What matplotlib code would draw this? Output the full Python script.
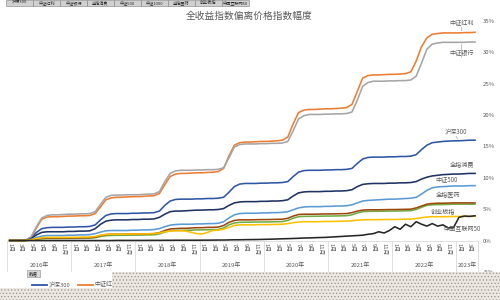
import matplotlib
matplotlib.use('Agg')
import matplotlib.pyplot as plt
from matplotlib.patches import Rectangle
from matplotlib.lines import Line2D

plt.rcParams['font.family'] = ['Noto Sans CJK SC', 'DejaVu Sans']
plt.rcParams['hatch.linewidth'] = 0.55

title = '全收益指数偏离价格指数幅度'
years = ['2016年', '2017年', '2018年', '2019年', '2020年', '2021年', '2022年', '2023年']
months_per_year = [12, 12, 12, 12, 12, 12, 12, 4]
month_labels = ['1月', '3月', '5月', '7月', '9月', '11月']
y_ticks = [-5, 0, 5, 10, 15, 20, 25, 30, 35]

series_names = ['沪深300', '中证红利', '中证银行', '全指消费', '中证500',
                '中证1000', '全指医药', '创业板指', '中国互联网50']

hs300 = [0, 0, 0, 0.02, 0.4, 1.3, 1.9, 2.05, 2.1, 2.1, 2.1, 2.15,
         2.15, 2.2, 2.2, 2.25, 2.5, 3.3, 4.0, 4.25, 4.3, 4.3, 4.3, 4.35,
         4.35, 4.4, 4.4, 4.45, 4.7, 5.6, 6.3, 6.55, 6.6, 6.6, 6.6, 6.65,
         6.65, 6.7, 6.7, 6.75, 6.9, 7.7, 8.6, 9.0, 9.1, 9.1, 9.1, 9.15,
         9.15, 9.2, 9.2, 9.25, 9.4, 10.2, 10.9, 11.15, 11.2, 11.2, 11.2, 11.25,
         11.25, 11.3, 11.3, 11.35, 11.5, 12.3, 13.0, 13.25, 13.3, 13.3, 13.3, 13.35,
         13.35, 13.4, 13.4, 13.45, 13.7, 14.5, 15.2, 15.6, 15.7, 15.8, 15.85, 15.9,
         15.9, 15.95, 16.0, 16.0]
hongli = [0, 0, 0, 0.05, 0.5, 2.0, 3.4, 3.75, 3.8, 3.8, 3.85, 3.9,
          3.9, 3.95, 3.95, 4.0, 4.3, 5.4, 6.5, 6.8, 6.9, 6.9, 6.95, 7.0,
          7.0, 7.05, 7.1, 7.15, 7.5, 8.9, 10.2, 10.6, 10.7, 10.7, 10.75, 10.8,
          10.8, 10.85, 10.9, 11.0, 11.5, 13.5, 15.2, 15.6, 15.7, 15.7, 15.75, 15.8,
          15.8, 15.85, 15.9, 16.0, 16.5, 18.6, 20.4, 20.8, 20.9, 20.9, 20.95, 21.0,
          21.0, 21.05, 21.1, 21.2, 21.7, 23.8, 25.9, 26.3, 26.4, 26.4, 26.45, 26.5,
          26.5, 26.55, 26.6, 26.9, 28.6, 30.9, 32.3, 32.9, 33.0, 33.1, 33.1, 33.1,
          33.1, 33.15, 33.15, 33.2]
yinhang = [0, 0, 0, 0.05, 0.6, 2.2, 3.6, 4.0, 4.1, 4.1, 4.15, 4.2,
           4.2, 4.25, 4.25, 4.3, 4.6, 5.8, 6.9, 7.2, 7.25, 7.25, 7.3, 7.3,
           7.3, 7.35, 7.4, 7.45, 7.8, 9.4, 10.7, 11.1, 11.2, 11.2, 11.2, 11.25,
           11.25, 11.3, 11.3, 11.35, 11.6, 13.2, 14.9, 15.3, 15.4, 15.4, 15.4, 15.45,
           15.45, 15.5, 15.5, 15.55, 15.8, 17.5, 19.4, 19.9, 20.1, 20.1, 20.1, 20.15,
           20.15, 20.2, 20.2, 20.25, 20.5, 22.4, 24.6, 25.2, 25.4, 25.4, 25.4, 25.45,
           25.45, 25.5, 25.5, 25.6, 26.2, 28.3, 30.5, 31.3, 31.5, 31.6, 31.6, 31.6,
           31.6, 31.6, 31.65, 31.65]
xiaofei = [0, 0, 0, 0.02, 0.3, 0.9, 1.3, 1.4, 1.4, 1.4, 1.4, 1.45,
           1.45, 1.5, 1.5, 1.55, 1.9, 2.6, 3.1, 3.25, 3.3, 3.3, 3.3, 3.35,
           3.35, 3.4, 3.4, 3.45, 3.7, 4.2, 4.6, 4.7, 4.7, 4.75, 4.8, 4.85,
           4.85, 4.9, 4.9, 4.95, 5.1, 5.6, 6.0, 6.15, 6.2, 6.2, 6.2, 6.25,
           6.25, 6.3, 6.3, 6.35, 6.5, 7.1, 7.6, 7.75, 7.8, 7.8, 7.8, 7.85,
           7.85, 7.9, 7.9, 7.95, 8.1, 8.6, 8.95, 9.05, 9.1, 9.1, 9.1, 9.15,
           9.15, 9.2, 9.2, 9.25, 9.4, 9.8, 10.1, 10.3, 10.4, 10.5, 10.55, 10.6,
           10.6, 10.65, 10.7, 10.7]
zz500 = [0, 0, 0, 0.01, 0.2, 0.5, 0.7, 0.8, 0.8, 0.8, 0.8, 0.85,
         0.85, 0.9, 0.9, 0.95, 1.1, 1.35, 1.55, 1.6, 1.6, 1.6, 1.6, 1.65,
         1.65, 1.7, 1.7, 1.75, 1.9, 2.2, 2.45, 2.55, 2.6, 2.6, 2.6, 2.65,
         2.65, 2.7, 2.7, 2.75, 3.0, 3.6, 4.1, 4.3, 4.35, 4.35, 4.35, 4.4,
         4.4, 4.45, 4.45, 4.5, 4.6, 4.9, 5.2, 5.35, 5.4, 5.4, 5.4, 5.45,
         5.45, 5.5, 5.5, 5.55, 5.7, 6.0, 6.3, 6.4, 6.45, 6.5, 6.55, 6.6,
         6.6, 6.65, 6.7, 6.75, 6.9, 7.4, 8.0, 8.4, 8.55, 8.6, 8.65, 8.7,
         8.7, 8.7, 8.75, 8.75]
zz1000 = [0, 0, 0, 0, 0.08, 0.2, 0.3, 0.33, 0.33, 0.33, 0.34, 0.35,
          0.35, 0.36, 0.37, 0.38, 0.45, 0.65, 0.78, 0.82, 0.83, 0.84, 0.85, 0.86,
          0.86, 0.88, 0.9, 0.92, 1.05, 1.35, 1.55, 1.6, 1.62, 1.63, 1.65, 1.7,
          1.7, 1.72, 1.74, 1.76, 2.0, 2.5, 2.8, 2.9, 2.92, 2.93, 2.95, 2.96,
          2.96, 2.98, 3.0, 3.02, 3.2, 3.55, 3.8, 3.85, 3.86, 3.87, 3.88, 3.9,
          3.9, 3.92, 3.94, 3.96, 4.1, 4.4, 4.6, 4.65, 4.66, 4.67, 4.68, 4.7,
          4.7, 4.72, 4.74, 4.76, 4.95, 5.3, 5.6, 5.7, 5.72, 5.74, 5.76, 5.8,
          5.8, 5.8, 5.8, 5.8]
yiyao = [0, 0, 0, 0, 0.1, 0.25, 0.35, 0.4, 0.4, 0.4, 0.4, 0.42,
         0.42, 0.44, 0.45, 0.46, 0.55, 0.8, 0.95, 1.0, 1.0, 1.0, 1.02, 1.04,
         1.04, 1.06, 1.08, 1.1, 1.25, 1.6, 1.85, 1.9, 1.95, 1.95, 2.0, 2.05,
         2.05, 2.1, 2.1, 2.15, 2.4, 2.9, 3.2, 3.3, 3.3, 3.3, 3.32, 3.34,
         3.34, 3.36, 3.38, 3.4, 3.55, 3.9, 4.15, 4.2, 4.2, 4.2, 4.22, 4.24,
         4.24, 4.26, 4.28, 4.3, 4.45, 4.7, 4.85, 4.9, 4.9, 4.9, 4.92, 4.94,
         4.94, 4.96, 4.98, 5.0, 5.2, 5.5, 5.8, 5.9, 5.95, 5.95, 5.97, 6.0,
         6.0, 6.0, 6.0, 6.0]
chuangye = [0, 0, 0, 0, 0.1, 0.3, 0.45, 0.5, 0.5, 0.5, 0.5, 0.52,
            0.52, 0.54, 0.55, 0.56, 0.65, 0.85, 0.98, 1.0, 1.0, 1.0, 1.02, 1.04,
            1.04, 1.06, 1.08, 1.1, 1.2, 1.4, 1.5, 1.55, 1.55, 1.5, 1.3, 1.1,
            1.05, 1.3, 1.6, 1.65, 1.8, 2.1, 2.4, 2.5, 2.5, 2.5, 2.52, 2.54,
            2.54, 2.56, 2.58, 2.6, 2.7, 2.85, 2.95, 3.0, 3.0, 3.0, 3.02, 3.04,
            3.04, 3.06, 3.08, 3.1, 3.15, 3.25, 3.3, 3.32, 3.33, 3.34, 3.35, 3.36,
            3.36, 3.38, 3.4, 3.42, 3.5, 3.65, 3.75, 3.8, 3.8, 3.8, 3.82, 3.84,
            3.84, 3.85, 3.86, 3.86]
hulianwang = [0, 0, 0, 0, 0, 0, 0, 0, 0, 0, 0, 0,
              0, 0, 0, 0, 0, 0, 0, 0, 0.02, 0.02, 0.02, 0.02,
              0.02, 0.02, 0.03, 0.03, 0.03, 0.04, 0.04, 0.05, 0.05, 0.05, 0.05, 0.05,
              0.06, 0.06, 0.07, 0.08, 0.08, 0.1, 0.12, 0.12, 0.14, 0.15, 0.16, 0.18,
              0.2, 0.22, 0.25, 0.28, 0.3, 0.33, 0.36, 0.4, 0.42, 0.45, 0.48, 0.5,
              0.55, 0.6, 0.65, 0.7, 0.75, 0.8, 0.85, 1.0, 1.1, 1.4, 1.2, 1.6,
              2.2, 1.8, 2.6, 2.2, 3.0, 2.6, 2.3, 2.7, 2.3, 2.5, 2.0, 2.1,
              3.7, 3.9, 3.85, 3.95]

colors = ['#2E56A6', '#ED7D31', '#A5A5A5', '#1F3264', '#5B9BD5',
          '#70AD47', '#9E480E', '#FFC000', '#262626']
all_series = [hs300, hongli, yinhang, xiaofei, zz500, zz1000, yiyao, chuangye, hulianwang]

W, H = 500, 300
fig = plt.figure(figsize=(5, 3), dpi=100)
fig.patch.set_facecolor('white')


def fx(x):
    return x / W


def fy(y):
    return 1 - y / H


y_bot_px, y_top_px = 271.9, 21.0
x_l_px, x_r_px = 7.0, 477.7
ax = fig.add_axes([fx(x_l_px), fy(y_bot_px), (x_r_px - x_l_px) / W, (y_bot_px - y_top_px) / H])
n_months = sum(months_per_year)
ax.set_xlim(-0.5, n_months - 0.5)
ax.set_ylim(-5, 35)
ax.patch.set_alpha(0)

xs = list(range(n_months))
for vals, c in zip(all_series, colors):
    ax.plot(xs, vals, color=c, lw=1.15, solid_joinstyle='round', zorder=3)

# axes styling
for s in ['top', 'left', 'right']:
    ax.spines[s].set_visible(False)
ax.spines['bottom'].set_position(('data', 0))
ax.spines['bottom'].set_color('#d9d9d9')
ax.spines['bottom'].set_linewidth(0.6)
ax.spines['bottom'].set_zorder(1)

ax.yaxis.tick_right()
ax.set_yticks(y_ticks)
ax.set_yticklabels([f'{v}%' for v in y_ticks], fontsize=4.3, color='#595959')
ax.tick_params(axis='y', length=0, pad=3.5)

tick_pos, tick_lab = [], []
start = 0
for ny in months_per_year:
    for k in range(0, ny, 2):
        tick_pos.append(start + k)
        tick_lab.append(month_labels[k // 2])
    start += ny
ax.set_xticks(tick_pos)
ax.set_xticklabels(tick_lab, rotation=270, fontsize=4.2, color='#595959')
ax.tick_params(axis='x', length=0, pad=1.8)
for lab in ax.get_xticklabels():
    lab.set_verticalalignment('top')
    lab.set_horizontalalignment('center')

# year groups
start = 0
bounds = [-0.5]
for yname, ny in zip(years, months_per_year):
    center = start + (ny - 1) / 2
    ax.text(center, -4.0, yname, ha='center', va='center', fontsize=4.3,
            color='#595959', clip_on=False)
    start += ny
    bounds.append(start - 0.5)
for b in bounds:
    ax.plot([b, b], [0, -4.9], color='#d9d9d9', lw=0.6, clip_on=False, zorder=1)

# end labels
end_labels = [
    ('中证红利', 461.7, 22.7, 84.5, hongli),
    ('中证银行', 461.7, 52.7, 84.5, yinhang),
    ('沪深300', 456.0, 131.7, 84.0, hs300),
    ('全指消费', 461.7, 165.0, None, xiaofei),
    ('中证500', 446.7, 179.0, None, zz500),
    ('全指医药', 448.3, 195.0, None, yiyao),
    ('创业板指', 443.3, 211.7, None, chuangye),
    ('中国互联网50', 461.7, 228.3, None, hulianwang),
]
for name, px, py, mx, vals in end_labels:
    ax.text(fx(px), fy(py), name, transform=fig.transFigure, ha='center', va='center',
            fontsize=4.4, color='#595959')
    if mx is not None:
        v = vals[int(round(mx))]
        ax.annotate('', xy=(mx, v), xytext=(fx(px), fy(py + 4.5)),
                    textcoords=fig.transFigure,
                    arrowprops=dict(arrowstyle='-', color='#a6a6a6', lw=0.5,
                                    shrinkA=0, shrinkB=1.5))

# title
fig.text(fx(249.5), fy(15.5), title, ha='center', va='center', fontsize=7, color='#595959')

# top field buttons
bx0, bw = 6.0, 27.0
for i, name in enumerate(series_names):
    x0 = bx0 + i * bw
    fig.add_artist(Rectangle((fx(x0), fy(6)), bw / W, 6 / H, transform=fig.transFigure,
                             facecolor='#d0d0d0', edgecolor='#7f7f7f', lw=0.4))
    fig.text(fx(x0 + bw / 2), fy(3), name, ha='center', va='center', fontsize=3.0,
             color='#262626')

# bottom field button + legend
fig.add_artist(Rectangle((fx(27), fy(277)), 13 / W, 7 / H, transform=fig.transFigure,
                         facecolor='#d9d9d9', edgecolor='#8c8c8c', lw=0.4))
fig.text(fx(33.5), fy(273.5), '数据', ha='center', va='center', fontsize=3.2, color='#262626')
leg_items = [(series_names[0], colors[0], 32), (series_names[1], colors[1], 78)]
for name, c, lx in leg_items:
    fig.add_artist(Line2D([fx(lx), fx(lx + 15)], [fy(284.5), fy(284.5)],
                          transform=fig.transFigure, color=c, lw=1.3))
    fig.text(fx(lx + 16.5), fy(284.5), name, ha='left', va='center', fontsize=4.3,
             color='#595959')

# dotted overlay at the bottom
for (x0, y0, x1, y1) in [(112, 271.7, 500, 300), (0, 287.7, 112, 300)]:
    fig.add_artist(Rectangle((fx(x0), fy(y1)), (x1 - x0) / W, (y1 - y0) / H,
                             transform=fig.transFigure, facecolor='#ece7e1',
                             edgecolor='#9d9891', lw=0, hatch='.....', zorder=20))

fig.savefig('out.png', dpi=100, facecolor='white')
